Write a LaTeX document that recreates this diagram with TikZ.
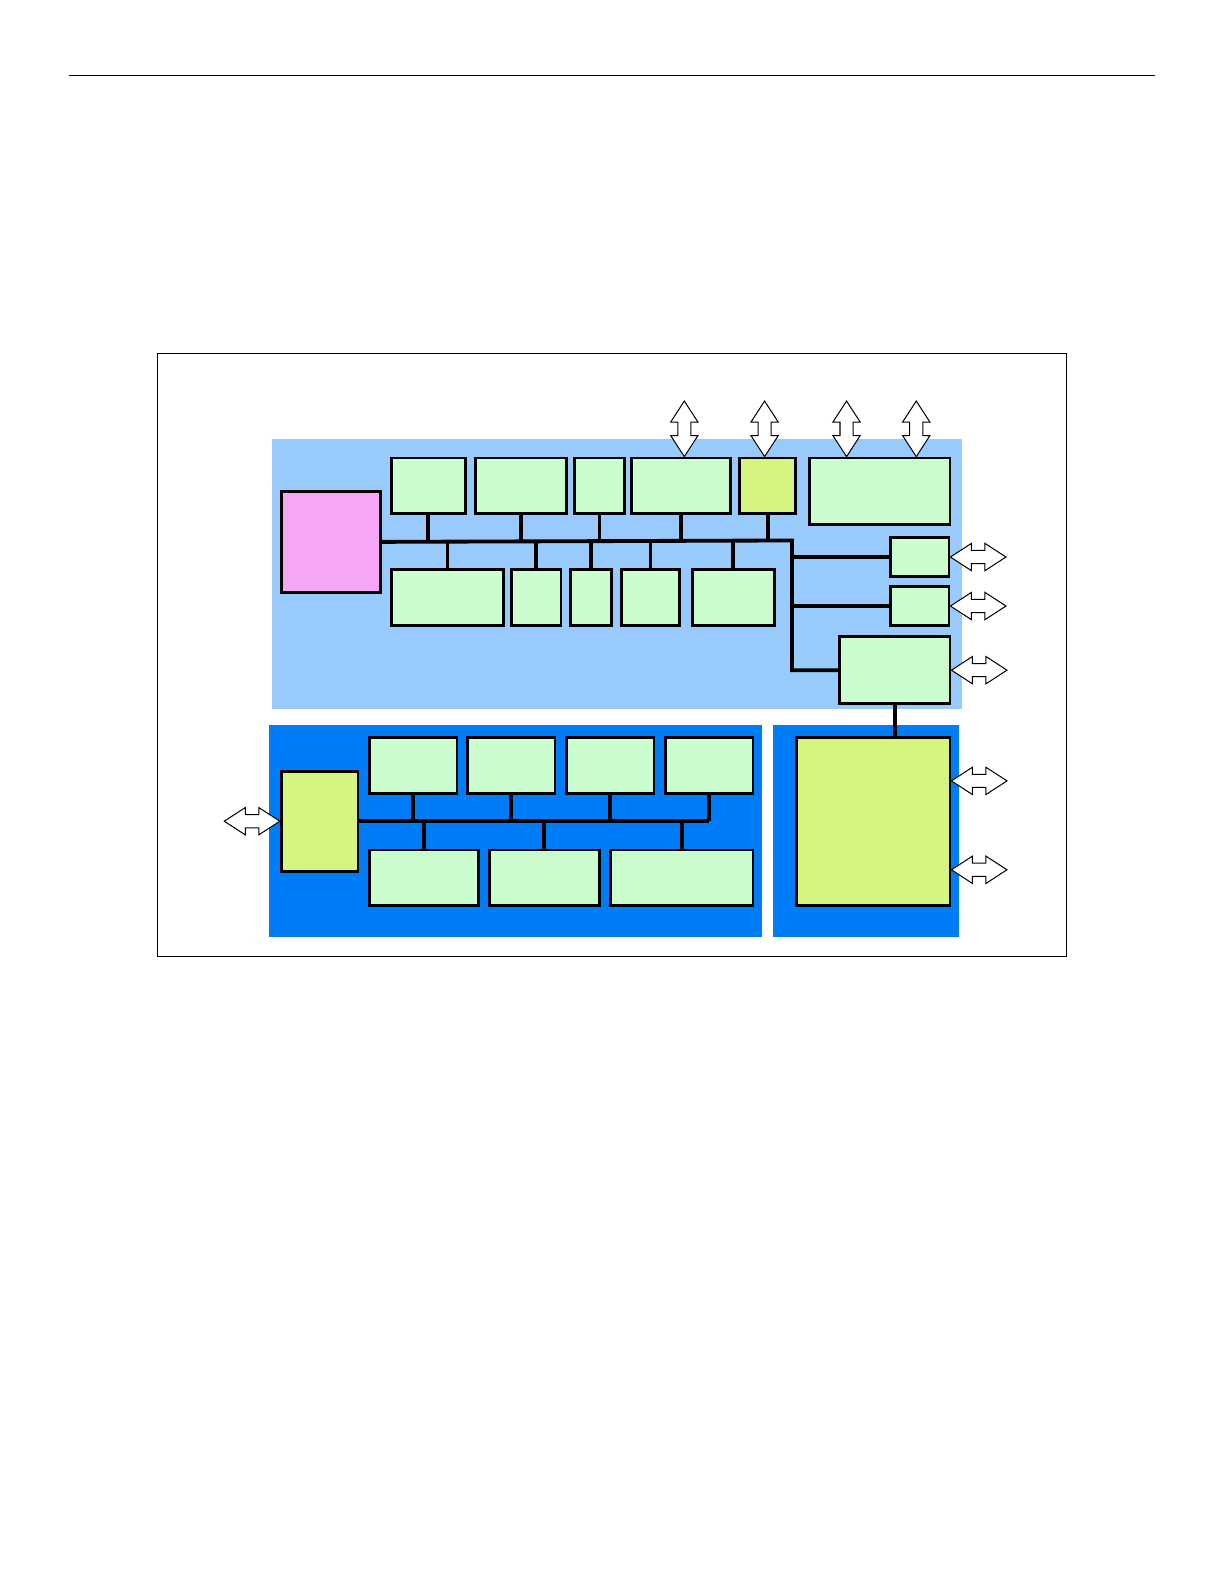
\documentclass[tikz,border=0pt]{standalone}
\usepackage{tikz}
\usetikzlibrary{positioning,calc,shapes.arrows}

\definecolor{lightzone}{RGB}{152,202,252}
\definecolor{darkzone}{RGB}{0,124,246}
\definecolor{cellgreen}{RGB}{202,252,206}
\definecolor{cpupink}{RGB}{245,166,245}
\definecolor{lime}{RGB}{213,245,128}

\begin{document}
\begin{tikzpicture}[x=1pt, y=-1pt,
        cell/.style={draw, line width=2.8pt, fill=cellgreen, anchor=north west, inner sep=0pt},
        link/.style={line width=3.8pt},
        port/.style={draw, line width=1pt, fill=white, double arrow, double arrow head extend=7pt,
                     double arrow tip angle=66, inner xsep=0pt, inner ysep=6pt, minimum height=55pt}
    ]
    \path[use as bounding box, fill=white] (0,0) rectangle (1212,1568);
    % page rule and frame
    \draw[line width=1pt] (68,75) -- (1143,75);
    \draw[line width=0.8pt] (156,350) rectangle (1056,947);
    % zones
    \fill[lightzone] (269,435) rectangle (952,702);
    \fill[darkzone] (266,718) rectangle (754,928);
    \fill[darkzone] (765,718) rectangle (949,928);

    % upper zone
    \node[cell, fill=cpupink, minimum width=98pt, minimum height=100pt] (cpu) at (277,485) {};
    \node[cell, minimum width=73pt, minimum height=55pt] (ta) at (386,452) {};
    \node[cell, minimum width=90pt, minimum height=55pt] (tb) at (469,452) {};
    \node[cell, minimum width=50pt, minimum height=55pt] (tc) at (567,452) {};
    \node[cell, minimum width=98pt, minimum height=55pt] (td) at (624,452) {};
    \node[cell, fill=lime, minimum width=55pt, minimum height=55pt] (te) at (731,452) {};
    \node[cell, minimum width=139pt, minimum height=66pt] (tf) at (800,452) {};
    \node[cell, minimum width=111pt, minimum height=56pt] (ba) at (386,562) {};
    \node[cell, minimum width=49pt, minimum height=56pt] (bb) at (505,562) {};
    \node[cell, minimum width=41pt, minimum height=56pt] (bc) at (563,562) {};
    \node[cell, minimum width=57pt, minimum height=56pt] (bd) at (614,562) {};
    \node[cell, minimum width=81pt, minimum height=56pt] (be) at (684,562) {};
    \node[cell, minimum width=58pt, minimum height=38pt] (sa) at (880,531) {};
    \node[cell, minimum width=58pt, minimum height=39pt] (sb) at (880,579) {};
    \node[cell, minimum width=109pt, minimum height=66pt] (pe) at (830,629) {};

    \coordinate (ja) at (784,535);
    \draw[link] (cpu.east) -- (ja) -- (ja |- pe.west) -- (pe.west);
    \foreach \n in {ta,tb,tc,td,te}
        \draw[link] (\n.south) -- (\n.south |- cpu.east);
    \foreach \n in {ba,bb,bc,bd,be}
        \draw[link] (\n.north) -- (\n.north |- cpu.east);
    \foreach \n in {sa,sb}
        \draw[link] (\n.west) -- (ja |- \n.west);

    % lower left zone
    \node[cell, fill=lime, minimum width=76pt, minimum height=99pt] (ctl) at (277,762) {};
    \node[cell, minimum width=87pt, minimum height=55pt] (qa) at (364,729) {};
    \node[cell, minimum width=87pt, minimum height=55pt] (qb) at (461,729) {};
    \node[cell, minimum width=87pt, minimum height=55pt] (qc) at (559,729) {};
    \node[cell, minimum width=87pt, minimum height=55pt] (qd) at (657,729) {};
    \node[cell, minimum width=108pt, minimum height=55pt] (ra) at (364,840) {};
    \node[cell, minimum width=109pt, minimum height=55pt] (rb) at (483,840) {};
    \node[cell, minimum width=141pt, minimum height=55pt] (rc) at (603,840) {};

    \coordinate (jb) at (qd.south |- ctl.east);
    \draw[link] (ctl.east) -- (jb);
    \foreach \n in {qa,qb,qc,qd}
        \draw[link] (\n.south) -- (\n.south |- ctl.east);
    \foreach \n in {ra,rb,rc}
        \draw[link] (\n.north) -- (\n.north |- ctl.east);

    % lower right zone
    \node[cell, fill=lime, minimum width=152pt, minimum height=166pt] (mem) at (787,729) {};
    \draw[link] (pe.south) -- (pe.south |- mem.north);

    % ports
    \node[port, rotate=90] (pa) at ($(td.north)+(3,-27.5)$) {};
    \node[port, rotate=90] (pb) at ($(te.north)+(-3,-27.5)$) {};
    \node[port, rotate=90] (pc) at ($(tf.north west)+(38,-27.5)$) {};
    \node[port, rotate=90] (pd) at ($(tf.north west)+(107,-27.5)$) {};
    \node[port] (pe1) at ($(sa.east)+(27.5,0)$) {};
    \node[port] (pe2) at ($(sb.east)+(27.5,0)$) {};
    \node[port] (pe3) at ($(pe.east)+(27.5,0)$) {};
    \node[port] (pm1) at ($(mem.north east)+(27.5,44)$) {};
    \node[port] (pm2) at ($(mem.north east)+(27.5,132)$) {};
    \node[port] (pl) at ($(ctl.west)+(-27.5,0)$) {};
\end{tikzpicture}
\end{document}
